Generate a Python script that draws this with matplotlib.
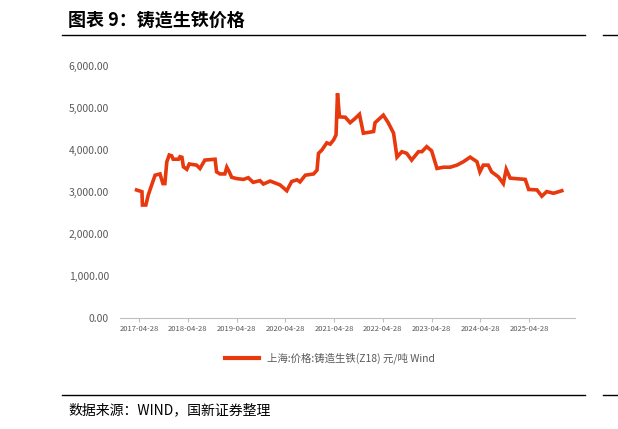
import matplotlib.pyplot as plt
from matplotlib.lines import Line2D

plt.rcParams['font.family'] = ['Noto Sans CJK SC', 'DejaVu Sans']

# time as fractional year
years = [2017.27, 2017.38, 2017.39, 2017.46, 2017.51, 2017.58, 2017.65, 2017.75, 2017.81, 2017.85,
         2017.89, 2017.94, 2017.99, 2018.02, 2018.13, 2018.16, 2018.20, 2018.23, 2018.30, 2018.35,
         2018.50, 2018.57, 2018.67, 2018.88, 2018.91, 2018.98, 2019.08, 2019.12, 2019.17, 2019.22,
         2019.32, 2019.46, 2019.56, 2019.66, 2019.80, 2019.87, 2020.01, 2020.21, 2020.35, 2020.45,
         2020.56, 2020.62, 2020.73, 2020.90, 2020.97, 2021.00, 2021.07, 2021.17, 2021.24, 2021.31,
         2021.36, 2021.39, 2021.43, 2021.55, 2021.65, 2021.75, 2021.84, 2021.92, 2022.13, 2022.16,
         2022.33, 2022.43, 2022.54, 2022.61, 2022.71, 2022.81, 2022.91, 2023.05, 2023.12, 2023.22,
         2023.32, 2023.43, 2023.56, 2023.70, 2023.84, 2023.97, 2024.11, 2024.25, 2024.31, 2024.38,
         2024.48, 2024.55, 2024.69, 2024.79, 2024.85, 2024.93, 2025.24, 2025.31, 2025.48, 2025.58,
         2025.68, 2025.82, 2025.99]
prices = [3048, 3007, 2690, 2690, 2930, 3170, 3400, 3430, 3200, 3200,
          3720, 3880, 3860, 3780, 3780, 3840, 3826, 3600, 3540, 3667,
          3640, 3560, 3760, 3780, 3480, 3430, 3430, 3590, 3480, 3350,
          3320, 3300, 3340, 3230, 3270, 3190, 3260, 3170, 3030, 3250,
          3290, 3240, 3400, 3430, 3520, 3920, 4000, 4170, 4140, 4240,
          4360, 5350, 4790, 4780, 4650, 4750, 4850, 4400, 4440, 4650,
          4830, 4650, 4400, 3830, 3960, 3920, 3760, 3960, 3960, 4080,
          3980, 3560, 3590, 3590, 3640, 3720, 3830, 3720, 3480, 3640,
          3640, 3480, 3360, 3200, 3540, 3330, 3300, 3060, 3050, 2900,
          3010, 2970, 3030]
tick_years = [2017.32 + k for k in range(9)]
tick_labels = [f"{2017 + k}-04-28" for k in range(9)]
yticks = [0, 1000, 2000, 3000, 4000, 5000, 6000]
red = "#E8380D"

fig = plt.figure(figsize=(6.18, 4.29), dpi=100)
W, H = 618, 429
ax = fig.add_axes([120 / W, 1 - 318 / H, 455 / W, 252 / H])
ax.plot(years, prices, color=red, lw=2.6, solid_joinstyle="miter")
ax.set_xlim(2016.93, 2026.26)
ax.set_ylim(0, 6000)
ax.set_xticks(tick_years)
ax.set_xticklabels(tick_labels, fontsize=5.5, color="#595959")
ax.set_yticks(yticks)
ax.set_yticklabels([f"{v:,.2f}" for v in yticks], fontsize=7.5, color="#595959")
for s in ["top", "right", "left"]:
    ax.spines[s].set_visible(False)
ax.spines["bottom"].set_color("#BFBFBF")
ax.tick_params(axis="y", length=0, pad=8)
ax.tick_params(axis="x", length=3, color="#BFBFBF", pad=2)

leg = fig.legend([Line2D([], [], color=red, lw=3)], ["上海:价格:铸造生铁(Z18) 元/吨 Wind"],
                 loc="center", bbox_to_anchor=(330 / W, 1 - 358 / H), frameon=False,
                 fontsize=7.5, handlelength=3.2)
for t in leg.get_texts():
    t.set_color("#595959")

fig.text(68 / W, 1 - 20 / H, "图表 9：铸造生铁价格", fontsize=13, fontweight="bold",
         style="italic", va="center")
fig.add_artist(Line2D([62 / W, 585 / W], [1 - 35 / H] * 2, color="black", lw=1))
fig.add_artist(Line2D([603 / W, 1], [1 - 35 / H] * 2, color="black", lw=1))
fig.add_artist(Line2D([62 / W, 585 / W], [1 - 395 / H] * 2, color="black", lw=1))
fig.add_artist(Line2D([603 / W, 1], [1 - 395 / H] * 2, color="black", lw=1))
fig.text(68 / W, 1 - 410 / H, "数据来源：WIND，国新证券整理", fontsize=10, va="center")

fig.savefig("out.png", dpi=100)
